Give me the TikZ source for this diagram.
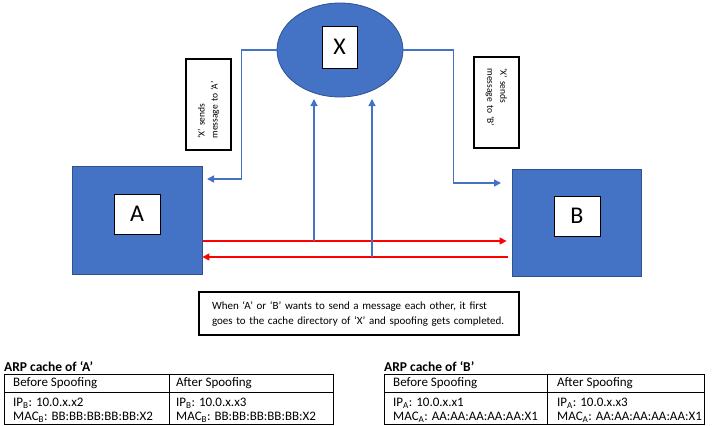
\documentclass[tikz,border=0pt]{standalone}
\usepackage{fontspec}
\setmainfont{Carlito}
\usetikzlibrary{calc,arrows.meta,shapes.geometric}
\definecolor{hostblue}{HTML}{4472C4}
\definecolor{hostedge}{HTML}{2F528F}

\begin{document}
\begin{tikzpicture}[x=1pt,y=-1pt,
		host/.style={draw=hostedge,fill=hostblue,line width=0.8pt,minimum width=130pt,minimum height=108pt},
		tag/.style={draw=black,fill=white,line width=0.8pt,inner sep=0pt,minimum width=46pt,minimum height=40pt,
			font=\fontsize{24}{24}\selectfont},
		link/.style={draw=hostblue,line width=1.6pt,-{Triangle[length=7pt,width=7pt]}},
		spoof/.style={draw=red,line width=1.3pt,-{Triangle[length=7pt,width=7pt]}},
		note/.style={draw=black,line width=1.2pt,fill=white,inner ysep=0pt,inner xsep=11.5pt,align=left,
			minimum width=91pt,minimum height=45pt,text width=68pt,font=\fontsize{9.5}{13}\selectfont},
		cell/.style={anchor=west,inner sep=0pt,align=left,font=\fontsize{13}{14}\selectfont},
		grid/.style={draw=black,line width=0.6pt}]
			%%%%% START %%%%%
			\useasboundingbox (0,0) rectangle (716,426);
			
			% hosts and attacker
			\node[host] (A) at (137,220) {};
			\node[tag] (Alabel) at (137,214) {A};
			
			\node[host,minimum width=129pt,minimum height=107pt] (B) at (576.5,222.5) {};
			\node[tag] (Blabel) at (577,216) {B};
			
			\node[ellipse,draw=hostedge,fill=hostblue,line width=0.8pt,minimum width=126pt,minimum height=94pt] (X) at (340,50) {};
			\node[tag,minimum width=35pt,minimum height=42pt] (Xlabel) at (339.5,47) {X};
			
			% messages from X
			\coordinate (toA) at (207,179);
			\coordinate (toB) at (501,183);
			\draw[link] (X.west) -- ++(-35,0) |- (toA);
			\draw[link] (X.east) -- ++(50,0) |- (toB);
			
			\node[note,rotate=90] (noteA) at (208.5,104.5) {‘X’ sends\\message to ‘A’};
			\node[note,rotate=-90] (noteB) at (496.5,102.5) {‘X’ sends\\message to ‘B’};
			
			% spoofed traffic
			\coordinate (AtoB) at (203,241);
			\coordinate (BtoA) at (508,257);
			\draw[spoof,shorten >=5pt] (AtoB) -- (AtoB -| B.west);
			\draw[spoof] (BtoA) -- (BtoA -| A.east);
			
			\coordinate (tapA) at (314,241);
			\coordinate (tapB) at (372,257);
			\coordinate (Xbelow) at (340,99);
			\draw[link,line width=1.3pt] (tapA) -- (tapA |- Xbelow);
			\draw[link,line width=1.3pt] (tapB) -- (tapB |- Xbelow);
			
			\node[draw=black,line width=1.2pt,minimum width=320pt,minimum height=43pt,inner xsep=13pt,text width=294pt,
				align=left,font=\fontsize{11}{15}\selectfont] (caption) at (359,313.5)
				{When ‘A’ or ‘B’ wants to send a message each other, it first\\goes to the cache directory of ‘X’ and spoofing gets completed.};
			
			% ARP cache of A
			\node[anchor=west,inner sep=0pt,font=\fontsize{13.5}{14}\selectfont\bfseries] (titleA) at (4,367) {ARP cache of ‘A’};
			\draw[grid] (4,374) rectangle (333,424) (4,392) -- (333,392) (169,374) -- (169,424);
			\node[cell] (Abefore) at (13,383.5) {Before Spoofing};
			\node[cell] (Aafter) at (176,383.5) {After Spoofing};
			\node[cell] (Aold) at (13,410) {IP\textsubscript{B}: 10.0.x.x2\\MAC\textsubscript{B}: BB:BB:BB:BB:BB:X2};
			\node[cell] (Anew) at (176,410) {IP\textsubscript{B}: 10.0.x.x3\\MAC\textsubscript{B}: BB:BB:BB:BB:BB:X2};
			
			% ARP cache of B
			\node[anchor=west,inner sep=0pt,font=\fontsize{13.5}{14}\selectfont\bfseries] (titleB) at (384,367) {ARP cache of ‘B’};
			\draw[grid] (384,374) rectangle (704,424) (384,392) -- (704,392) (547,374) -- (547,424);
			\node[cell] (Bbefore) at (393,383.5) {Before Spoofing};
			\node[cell] (Bafter) at (557,383.5) {After Spoofing};
			\node[cell] (Bold) at (393,410) {IP\textsubscript{A}: 10.0.x.x1\\MAC\textsubscript{A}: AA:AA:AA:AA:AA:X1};
			\node[cell] (Bnew) at (557,410) {IP\textsubscript{A}: 10.0.x.x3\\MAC\textsubscript{A}: AA:AA:AA:AA:AA:X1};
			%%%%% END %%%%%
		\end{tikzpicture}
\end{document}
